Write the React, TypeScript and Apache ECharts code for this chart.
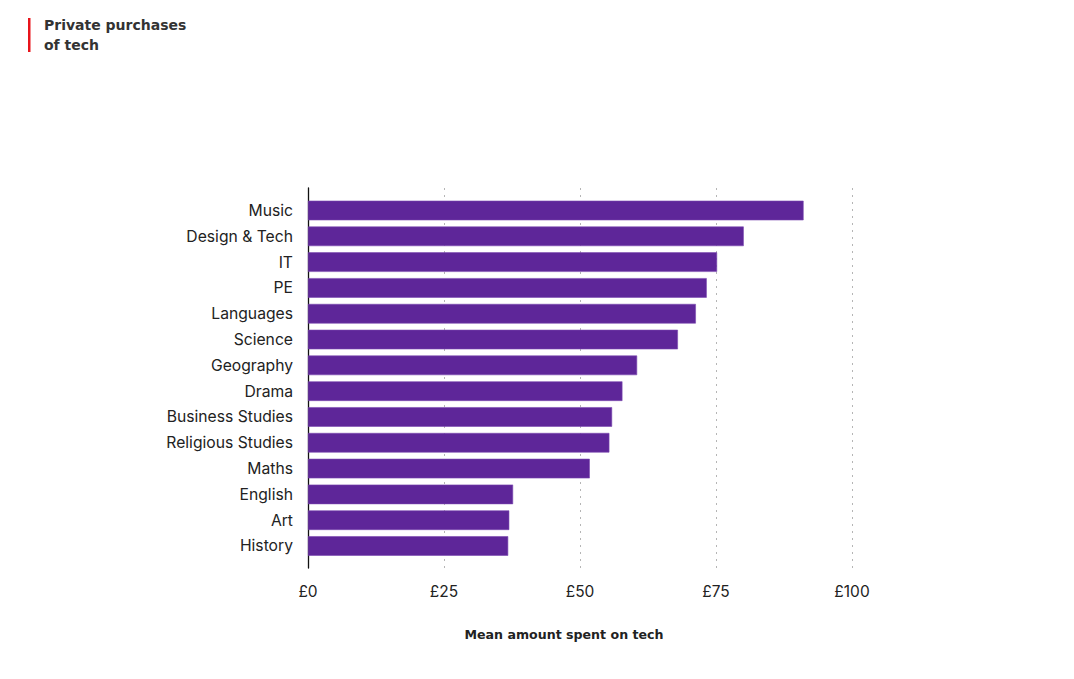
import React, { useEffect, useRef } from "react";
import * as echarts from "echarts";

const categories = [
  "Music",
  "Design & Tech",
  "IT",
  "PE",
  "Languages",
  "Science",
  "Geography",
  "Drama",
  "Business Studies",
  "Religious Studies",
  "Maths",
  "English",
  "Art",
  "History",
];
const meanSpend = [91.1, 80.1, 75.2, 73.3, 71.3, 68.0, 60.5, 57.8, 55.9, 55.4, 51.8, 37.7, 37.0, 36.8];
const xTicks = [0, 25, 50, 75, 100];
const titleText = "Private purchases\nof tech";
const axisTitle = "Mean amount spent on tech";

const FONT = "Inter, 'Noto Sans', sans-serif";
const BOLD_FONT = "'DejaVu Sans', Inter, sans-serif";

export default function App() {
  const ref = useRef<HTMLDivElement>(null);
  useEffect(() => {
    if (!ref.current) return;
    const chart = echarts.init(ref.current, null, { renderer: "svg" });
    const xMin = xTicks[0];
    const xMax = xTicks[xTicks.length - 1];
    const step = xTicks[1] - xTicks[0];
    chart.setOption({
      animation: false,
      backgroundColor: "#ffffff",
      textStyle: { fontFamily: FONT },
      grid: [
        { left: 308, width: 544, top: 188, height: 380 },
        { left: 308, width: 544, top: 197.6, height: 361.3 },
      ],
      xAxis: [
        {
          gridIndex: 0,
          type: "value",
          min: xMin,
          max: xMax,
          interval: step,
          axisLine: { show: false },
          axisTick: { show: false },
          axisLabel: {
            color: "#222",
            fontSize: 15.5,
            fontFamily: FONT,
            margin: 15,
            formatter: (v: number) => "£" + v,
          },
          splitLine: {
            show: true,
            lineStyle: { color: "#b5b5b5", width: 1, type: [2, 5] },
          },
        },
        {
          gridIndex: 1,
          type: "value",
          min: xMin,
          max: xMax,
          interval: step,
          show: false,
          splitLine: { show: false },
        },
      ],
      yAxis: [
        {
          gridIndex: 0,
          type: "value",
          min: 0,
          max: 1,
          axisLine: { show: true, onZero: false, lineStyle: { color: "#111", width: 1.3 } },
          axisTick: { show: false },
          axisLabel: { show: false },
          splitLine: { show: false },
        },
        {
          gridIndex: 1,
          type: "category",
          data: categories,
          inverse: true,
          axisLine: { show: false },
          axisTick: { show: false },
          axisLabel: { color: "#222", fontSize: 15.7, fontFamily: FONT, margin: 15 },
          splitLine: { show: false },
        },
      ],
      series: [
        {
          type: "bar",
          xAxisIndex: 1,
          yAxisIndex: 1,
          data: meanSpend,
          barWidth: "76%",
          itemStyle: { color: "#5e2699", borderColor: "#7a48b0", borderWidth: 0.6 },
        },
      ],
      graphic: [
        {
          type: "rect",
          left: 28,
          top: 18,
          shape: { width: 2.5, height: 34 },
          style: { fill: "#e8141b" },
        },
        {
          type: "text",
          left: 44,
          top: 15,
          style: {
            text: titleText,
            fill: "#333",
            font: `bold 14px ${BOLD_FONT}`,
            lineHeight: 20,
          },
        },
        {
          type: "text",
          x: 564,
          y: 634,
          style: {
            text: axisTitle,
            fill: "#222",
            font: `bold 12.6px ${BOLD_FONT}`,
            textAlign: "center",
            textVerticalAlign: "middle",
          },
        },
      ],
    });
    return () => chart.dispose();
  }, []);
  return (
    <div
      ref={ref}
      style={{ position: "fixed", left: 0, top: 0, width: 1074, height: 679 }}
    />
  );
}
